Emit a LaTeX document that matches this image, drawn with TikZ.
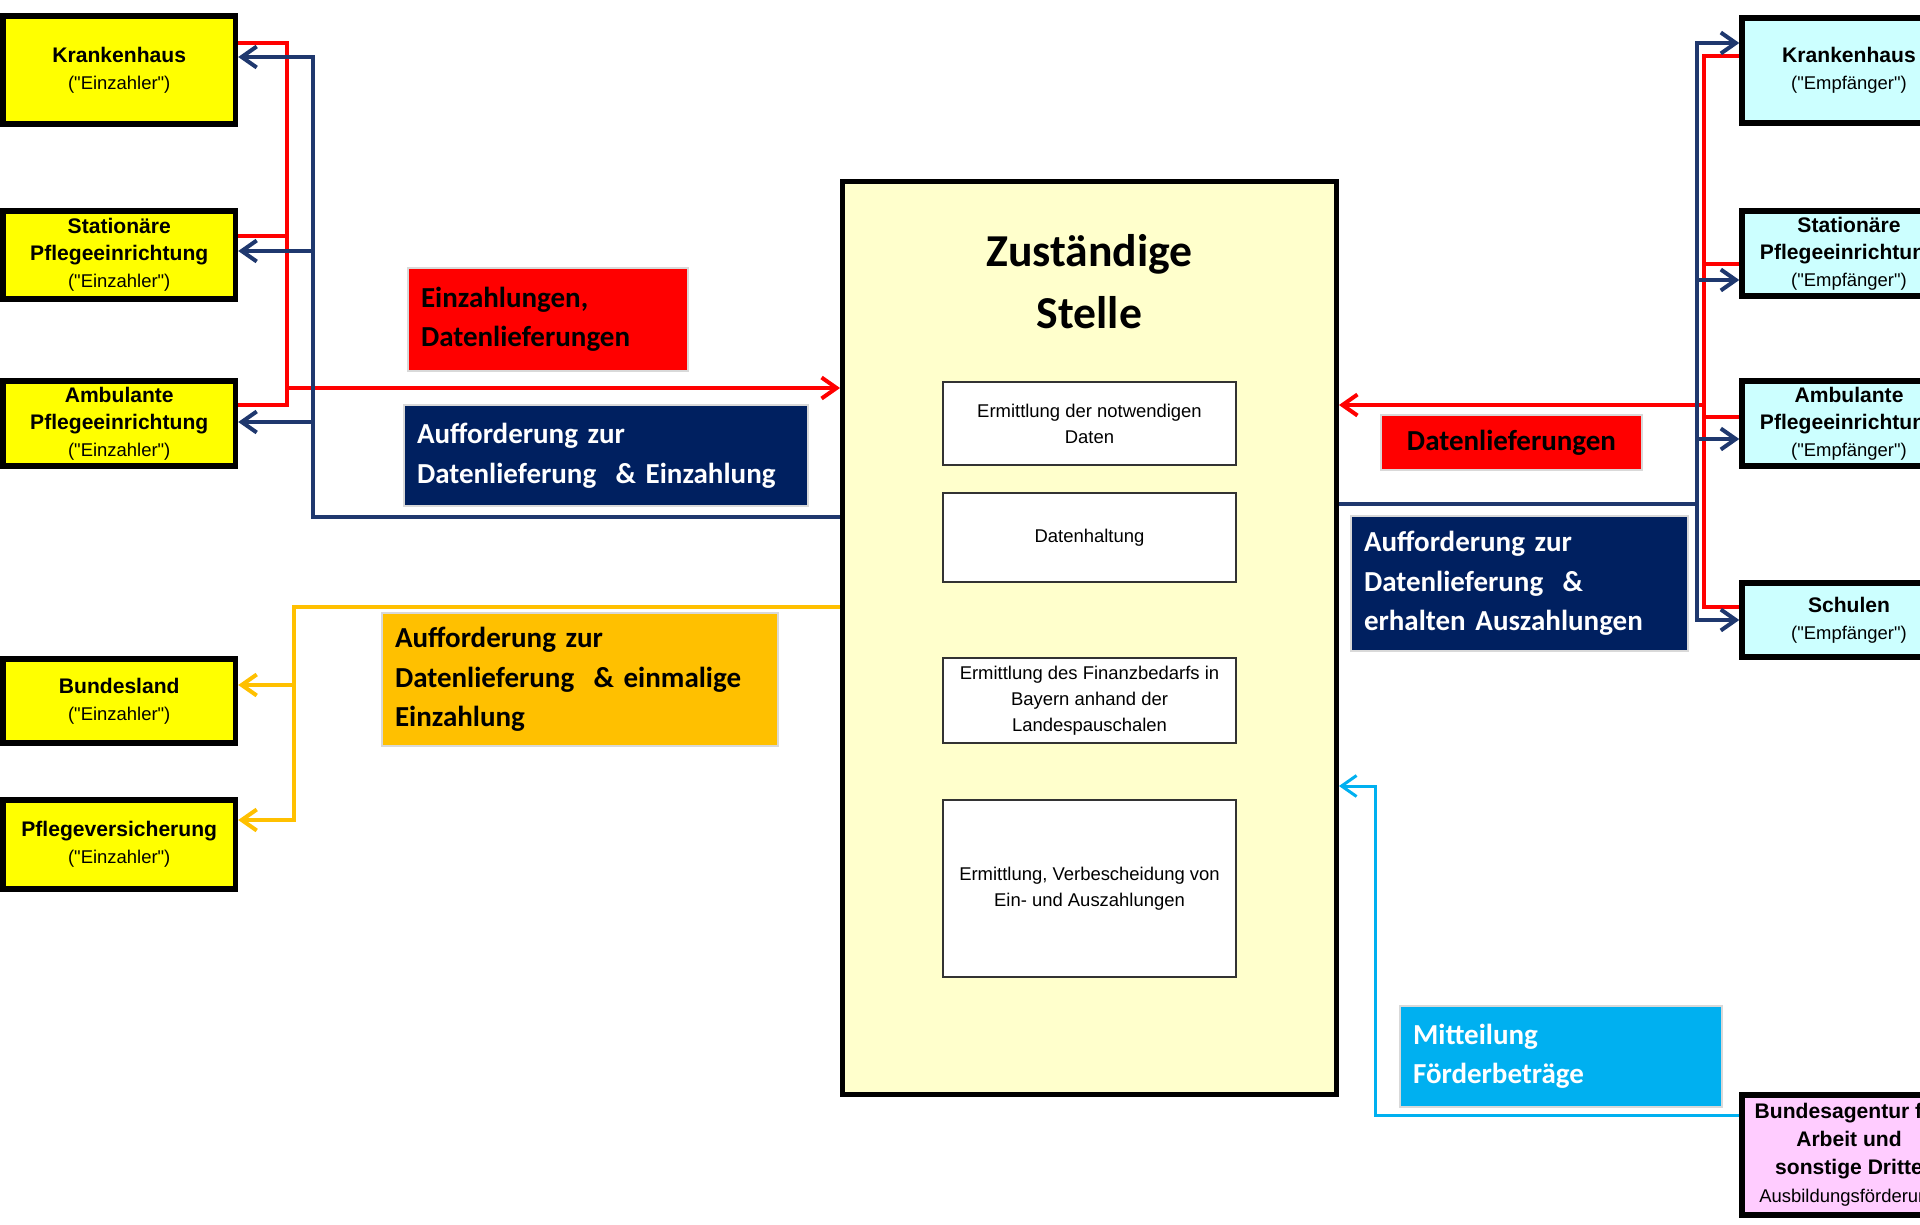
\documentclass[tikz,border=0pt]{standalone}
\usepackage{fontspec}
\setmainfont{Liberation Sans}[Ligatures=TeXOff]
\newfontfamily\calibfont{Carlito}
\usepackage{tikz}
\usetikzlibrary{arrows.meta}
\definecolor{boxyellow}{RGB}{255,255,0}
\definecolor{boxcyan}{RGB}{204,255,255}
\definecolor{boxpink}{RGB}{255,204,255}
\definecolor{stellefill}{RGB}{255,255,204}
\definecolor{navylbl}{RGB}{0,32,96}
\definecolor{navyline}{RGB}{31,56,110}
\definecolor{orangelbl}{RGB}{255,192,0}
\definecolor{cyanlbl}{RGB}{0,176,240}
\newcommand{\role}[1]{{\mdseries\fontsize{10.5}{15.3}\selectfont #1}}

\begin{document}
\begin{tikzpicture}[x=0.02cm, y=-0.02cm,
  >={Straight Barb[length=0.3cm, width=0.42cm]},
  payer/.style={draw=black, fill=boxyellow, line width=0.11cm,
    minimum width=4.65cm, align=center, font=\fontsize{12}{15.3}\selectfont\bfseries},
  payee/.style={payer, fill=boxcyan, minimum width=4.28cm},
  stelle/.style={draw=black, fill=stellefill, line width=0.1cm,
    minimum width=9.88cm, minimum height=18.27cm},
  task/.style={draw=black!80, fill=white, line width=0.03cm,
    minimum width=5.86cm, align=center, font=\fontsize{10.5}{14.7}\selectfont},
  lbl/.style={draw=black!15, line width=0.03cm, inner xsep=0.26cm, align=left,
    font=\calibfont\bfseries\fontsize{16.5}{22.5}\selectfont},
  wire/.style={line width=0.08cm},
  redw/.style={wire, red},
  bluew/.style={wire, navyline},
  orgw/.style={wire, orangelbl},
  cyanw/.style={line width=0.06cm, cyanlbl},
]
  \useasboundingbox (0,0) rectangle (1920,1224);
  \clip (0,0) rectangle (1920,1224);

  % Einzahler (left)
  \node[payer, minimum height=2.16cm] (kh) at (119.25,70) {Krankenhaus\\\role{("Einzahler")}};
  \node[payer, minimum height=1.76cm] (st) at (119.25,255) {Stationäre\\Pflegeeinrichtung\\\role{("Einzahler")}};
  \node[payer, minimum height=1.62cm] (am) at (119.25,423.5) {Ambulante\\Pflegeeinrichtung\\\role{("Einzahler")}};
  \node[payer, minimum height=1.68cm] (bl) at (119.25,701) {Bundesland\\\role{("Einzahler")}};
  \node[payer, minimum height=1.78cm] (pv) at (119.25,844.5) {Pflegeversicherung\\\role{("Einzahler")}};

  % Empfaenger (right)
  \node[payee, minimum height=2.1cm] (khr) at (1849,70.5) {Krankenhaus\\\role{("Empfänger")}};
  \node[payee, minimum height=1.7cm] (str) at (1849,253.5) {Stationäre\\Pflegeeinrichtung\\\role{("Empfänger")}};
  \node[payee, minimum height=1.58cm] (amr) at (1849,423.5) {Ambulante\\Pflegeeinrichtung\\\role{("Empfänger")}};
  \node[payee, minimum height=1.48cm] (scr) at (1849,620) {Schulen\\\role{("Empfänger")}};
  \node[payee, fill=boxpink, minimum height=2.4cm, font=\fontsize{12}{16}\selectfont\bfseries] (ba) at (1849,1155)
    {Bundesagentur für\\Arbeit und\\sonstige Dritte\\\role{Ausbildungsförderung}};

  % Zustaendige Stelle
  \node[stelle] (zs) at (1089.5,637.75) {};
  \node[align=center, font=\calibfont\bfseries\fontsize{26}{35.7}\selectfont] (title) at (1089.5,281.5) {Zuständige\\Stelle};
  \node[task, minimum height=1.66cm] (t1) at (1089.5,423.5) {Ermittlung der notwendigen\\Daten};
  \node[task, minimum height=1.78cm] (t2) at (1089.5,537.5) {Datenhaltung};
  \node[task, minimum height=1.7cm] (t3) at (1089.5,700.5) {Ermittlung des Finanzbedarfs in\\Bayern anhand der\\Landespauschalen};
  \node[task, minimum height=3.54cm] (t4) at (1089.5,888.5) {Ermittlung, Verbescheidung von\\Ein- und Auszahlungen};

  % Labels
  \node[lbl, fill=red, text width=5.08cm, minimum height=2.06cm] (einz) at (548,319.5) {Einzahlungen,\\Datenlieferungen};
  \node[lbl, fill=navylbl, text=white, text width=7.56cm, minimum height=2.02cm] (auffl) at (606,455.5) {Aufforderung zur\\Datenlieferung ~\& Einzahlung};
  \node[lbl, fill=orangelbl, text width=7.4cm, minimum height=2.66cm] (auffo) at (580,679.5) {Aufforderung zur\\Datenlieferung ~\& einmalige\\Einzahlung};
  \node[lbl, fill=red, align=center, text width=4.7cm, minimum height=1.1cm] (datl) at (1511.5,442.5) {Datenlieferungen};
  \node[lbl, fill=navylbl, text=white, text width=6.22cm, minimum height=2.7cm] (auffr) at (1519.5,583.5) {Aufforderung zur\\Datenlieferung ~\&\\erhalten Auszahlungen};
  \node[lbl, fill=cyanlbl, text=white, text width=5.92cm, minimum height=2.02cm] (mitt) at (1561,1056.5) {Mitteilung\\Förderbeträge};

  % left connectors
  \coordinate (redbusL) at (287,388);
  \coordinate (bluebusL) at (313,517);
  \coordinate (orgbus) at (294,607);
  \draw[redw] (kh.east |- 0,43) -| (redbusL) |- (am.east |- 0,405);
  \draw[redw] (st.east |- 0,236) -| (redbusL);
  \draw[redw, ->] (redbusL) -- (zs.west |- redbusL);
  \draw[bluew, <-] (kh.east |- 0,57) -| (bluebusL) -- (zs.west |- bluebusL);
  \draw[bluew, <-] (st.east |- 0,251) -- (bluebusL |- 0,251);
  \draw[bluew, <-] (am.east |- 0,422) -- (bluebusL |- 0,422);
  \draw[orgw, ->] (zs.west |- orgbus) -- (orgbus) |- (pv.east |- 0,820);
  \draw[orgw, ->] (orgbus |- 0,685) -- (bl.east |- 0,685);

  % right connectors
  \coordinate (redbusR) at (1704,405);
  \coordinate (bluebusR) at (1697,504);
  \coordinate (cyanbus) at (1375,1115);
  \draw[redw] (khr.west |- 0,56) -| (redbusR |- 0,607) -- (scr.west |- 0,607);
  \draw[redw] (str.west |- 0,264) -- (redbusR |- 0,264);
  \draw[redw] (amr.west |- 0,417) -- (redbusR |- 0,417);
  \draw[redw, ->] (redbusR) -- (zs.east |- redbusR);
  \draw[bluew, ->] (zs.east |- bluebusR) -- (bluebusR) |- (khr.west |- 0,43);
  \draw[bluew, ->] (bluebusR) |- (scr.west |- 0,620);
  \draw[bluew, ->] (bluebusR |- 0,280) -- (str.west |- 0,280);
  \draw[bluew, ->] (bluebusR |- 0,439) -- (amr.west |- 0,439);
  \draw[cyanw, ->] (ba.west |- cyanbus) -- (cyanbus) |- (zs.east |- 0,786);
\end{tikzpicture}
\end{document}
